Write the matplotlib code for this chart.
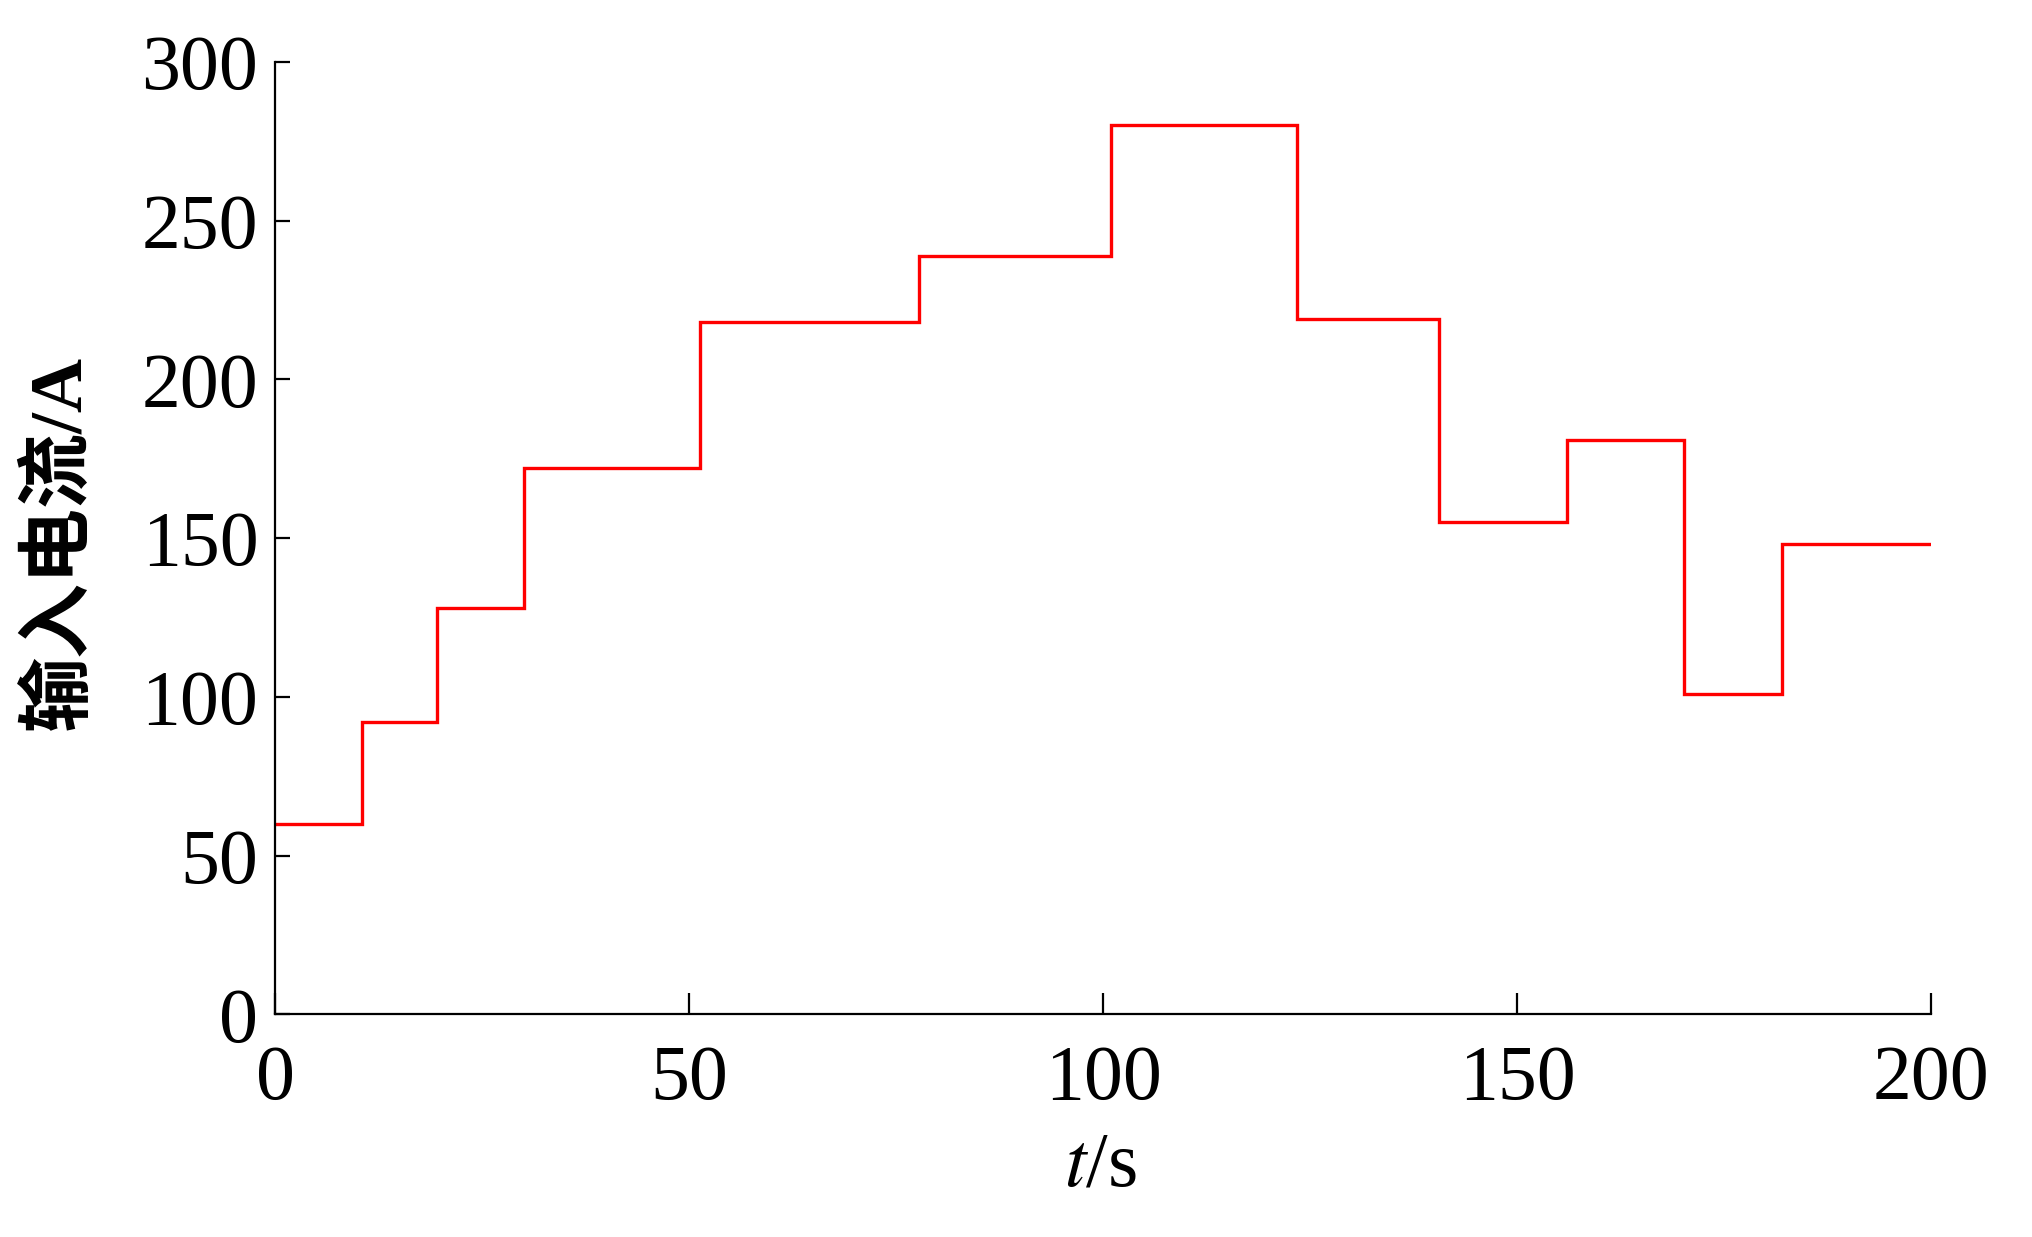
import matplotlib
matplotlib.use("Agg")
import matplotlib.pyplot as plt

# step change times (s) and input current levels (A)
t_edges = [0, 10.5, 19.6, 30.1, 51.3, 77.7, 100.9, 123.4, 140.5, 156.0, 170.1, 182.0, 200]
current = [60, 92, 128, 172, 218, 239, 280, 219, 155, 181, 101, 148]

x_ticks = [0, 50, 100, 150, 200]
y_ticks = [0, 50, 100, 150, 200, 250, 300]

plt.rcParams["mathtext.fontset"] = "stix"
serif = ["Liberation Serif", "Noto Sans CJK SC"]

fig = plt.figure(figsize=(20.33, 12.37), dpi=100)
ax = fig.add_axes([0.1353, 0.180, 0.8147, 0.770])

ax.stairs(current, t_edges, color="#ff0000", lw=2.4, baseline=None)

ax.set_xlim(0, 200)
ax.set_ylim(0, 300)
ax.set_xticks(x_ticks)
ax.set_yticks(y_ticks)
for s in ("top", "right"):
    ax.spines[s].set_visible(False)
for s in ("left", "bottom"):
    ax.spines[s].set_linewidth(1.6)

ax.tick_params(axis="x", direction="in", length=15, width=1.6, pad=22, labelsize=56)
ax.tick_params(axis="y", direction="in", length=11, width=1.6, pad=12, labelsize=56)
for lab in ax.get_xticklabels() + ax.get_yticklabels():
    lab.set_fontfamily(serif)

ax.set_xlabel(r"$t$/s", fontsize=56, family=serif)
ax.set_ylabel("输入电流/A", fontsize=54, family=serif, fontweight="bold")
ax.xaxis.set_label_coords(0.498, -0.122)
ax.yaxis.set_label_coords(-0.108, 0.495)

fig.savefig("out.png", dpi=100)
